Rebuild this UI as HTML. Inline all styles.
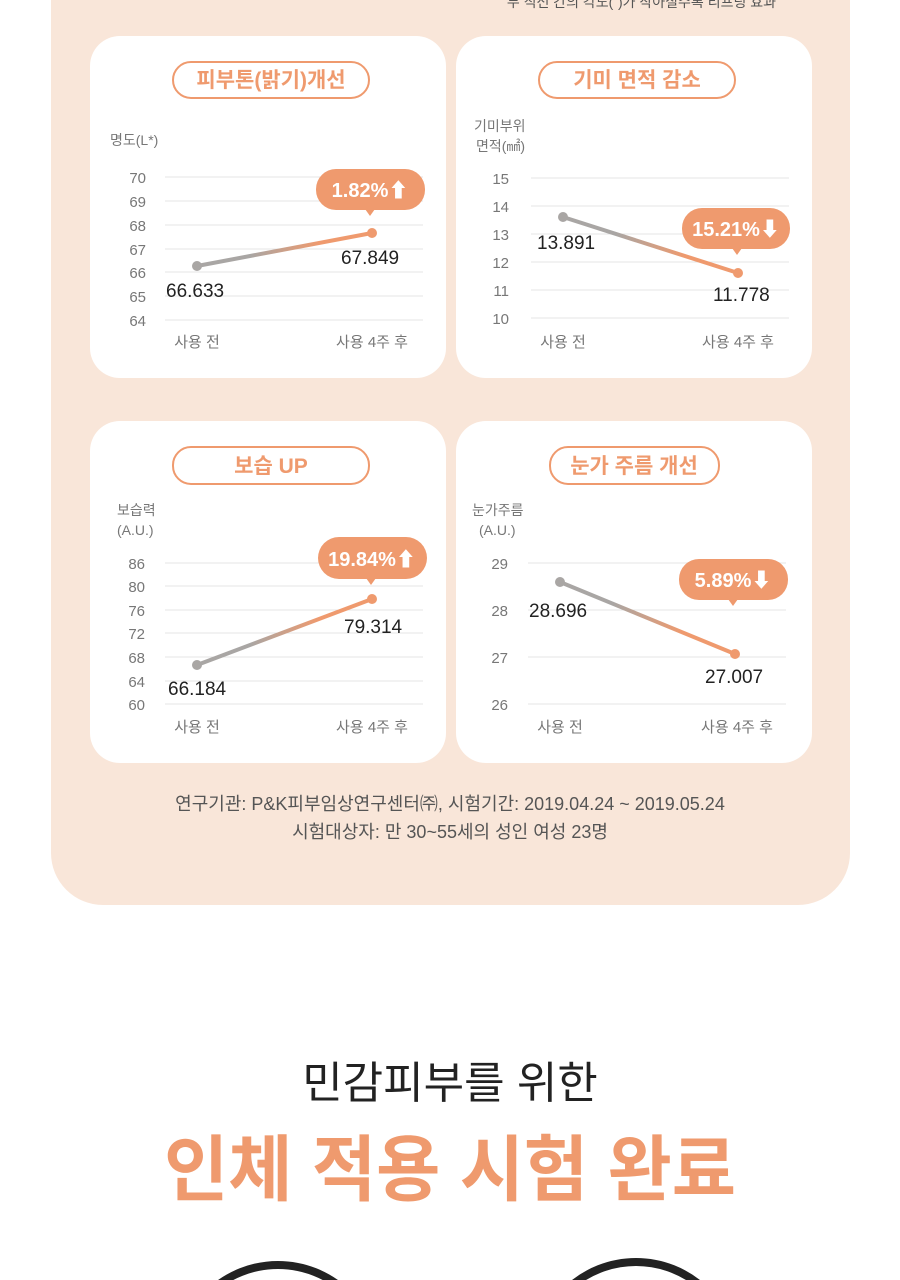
<!DOCTYPE html>
<html><head><meta charset="utf-8"><style>
html,body{margin:0;padding:0;background:#fff;width:900px;height:1280px;overflow:hidden}
svg{display:block;font-family:"Liberation Sans","Noto Sans CJK KR",sans-serif}
</style></head><body>
<svg width="900" height="1280" viewBox="0 0 900 1280" xmlns="http://www.w3.org/2000/svg">
<defs>
<linearGradient id="g" x1="0" x2="1" y1="0" y2="0"><stop offset="0.3" stop-color="#a9a6a4"/><stop offset="0.7" stop-color="#ef9a6e"/></linearGradient>
</defs>
<rect x="51" y="-60" width="799" height="965" rx="52" fill="#f9e6d9"/>
<text x="776" y="7" text-anchor="end" font-size="14" fill="#555">두 직선 간의 각도(˚)가 작아질수록 리프팅 효과</text>
<rect x="90" y="36" width="356" height="342" rx="30" fill="#fff"/>
<rect x="456" y="36" width="356" height="342" rx="30" fill="#fff"/>
<rect x="90" y="421" width="356" height="342" rx="30" fill="#fff"/>
<rect x="456" y="421" width="356" height="342" rx="30" fill="#fff"/>

<g stroke="#e4e4e4" stroke-width="1">
<path d="M165 177H423M165 201H423M165 225H423M165 249H423M165 272H423M165 296H423M165 320H423"/>
<path d="M531 178H789M531 206H789M531 234H789M531 262H789M531 290H789M531 318H789"/>
<path d="M165 563H423M165 586H423M165 610H423M165 633H423M165 657H423M165 681H423M165 704H423"/>
<path d="M528 563H786M528 610H786M528 657H786M528 704H786"/>
</g>

<g fill="none" stroke="#ef9a6e" stroke-width="2">
<rect x="173" y="62" width="196" height="36" rx="18"/>
<rect x="539" y="62" width="196" height="36" rx="18"/>
<rect x="173" y="447" width="196" height="37" rx="18"/>
<rect x="550" y="447" width="169" height="37" rx="18"/>
</g>
<g font-size="21" font-weight="bold" fill="#ef9a6e" text-anchor="middle">
<text x="271" y="87">피부톤(밝기)개선</text>
<text x="637" y="87">기미 면적 감소</text>
<text x="271" y="473">보습 UP</text>
<text x="634" y="473">눈가 주름 개선</text>
</g>

<g font-size="14" fill="#777">
<text x="110" y="145">명도(L*)</text>
<text x="474" y="131">기미부위</text><text x="476" y="151">면적(㎟)</text>
<text x="117" y="515">보습력</text><text x="117" y="535">(A.U.)</text>
<text x="472" y="515">눈가주름</text><text x="479" y="535">(A.U.)</text>
</g>

<g font-size="15" fill="#777" text-anchor="end">
<text x="146" y="183">70</text><text x="146" y="207">69</text><text x="146" y="231">68</text><text x="146" y="255">67</text><text x="146" y="278">66</text><text x="146" y="302">65</text><text x="146" y="326">64</text>
<text x="509" y="184">15</text><text x="509" y="212">14</text><text x="509" y="240">13</text><text x="509" y="268">12</text><text x="509" y="296">11</text><text x="509" y="324">10</text>
<text x="145" y="569">86</text><text x="145" y="592">80</text><text x="145" y="616">76</text><text x="145" y="639">72</text><text x="145" y="663">68</text><text x="145" y="687">64</text><text x="145" y="710">60</text>
<text x="508" y="569">29</text><text x="508" y="616">28</text><text x="508" y="663">27</text><text x="508" y="710">26</text>
</g>

<g font-size="15" fill="#777" text-anchor="middle">
<text x="197" y="347">사용 전</text><text x="372" y="347">사용 4주 후</text>
<text x="563" y="347">사용 전</text><text x="738" y="347">사용 4주 후</text>
<text x="197" y="732">사용 전</text><text x="372" y="732">사용 4주 후</text>
<text x="560" y="732">사용 전</text><text x="737" y="732">사용 4주 후</text>
</g>

<g stroke="url(#g)" stroke-width="4" fill="none" stroke-linecap="round">
<line x1="197" y1="266" x2="372" y2="233"/>
<line x1="563" y1="217" x2="738" y2="273"/>
<line x1="197" y1="665" x2="372" y2="599"/>
<line x1="560" y1="582" x2="735" y2="654"/>
</g>
<g>
<circle cx="197" cy="266" r="5" fill="#a9a6a4"/><circle cx="372" cy="233" r="5" fill="#ef9a6e"/>
<circle cx="563" cy="217" r="5" fill="#a9a6a4"/><circle cx="738" cy="273" r="5" fill="#ef9a6e"/>
<circle cx="197" cy="665" r="5" fill="#a9a6a4"/><circle cx="372" cy="599" r="5" fill="#ef9a6e"/>
<circle cx="560" cy="582" r="5" fill="#a9a6a4"/><circle cx="735" cy="654" r="5" fill="#ef9a6e"/>
</g>

<g font-size="19" fill="#222">
<text x="166" y="297">66.633</text><text x="341" y="264">67.849</text>
<text x="537" y="249">13.891</text><text x="713" y="301">11.778</text>
<text x="168" y="695">66.184</text><text x="344" y="633">79.314</text>
<text x="529" y="617">28.696</text><text x="705" y="683">27.007</text>
</g>

<g fill="#ef9a6e">
<rect x="316" y="169" width="109" height="41" rx="20"/><path d="M365 209L370 216L375 209Z"/>
<rect x="682" y="208" width="108" height="41" rx="20"/><path d="M732 248L737 255L742 248Z"/>
<rect x="318" y="537" width="109" height="42" rx="21"/><path d="M366 578L371 585L376 578Z"/>
<rect x="679" y="559" width="109" height="41" rx="20"/><path d="M728 599L733 606L738 599Z"/>
</g>
<g font-size="20" font-weight="bold" fill="#fff" text-anchor="middle">
<text x="370" y="197">1.82%⬆</text>
<text x="736" y="236">15.21%⬇</text>
<text x="372" y="566">19.84%⬆</text>
<text x="733" y="587">5.89%⬇</text>
</g>

<g font-size="18" fill="#555" text-anchor="middle">
<text x="450" y="810">연구기관: P&amp;K피부임상연구센터㈜, 시험기간: 2019.04.24 ~ 2019.05.24</text>
<text x="450" y="838">시험대상자: 만 30~55세의 성인 여성 23명</text>
</g>

<text x="450" y="1098" font-size="44" fill="#222" text-anchor="middle">민감피부를 위한</text>
<text x="450" y="1195" font-size="72" font-weight="bold" fill="#ef9a6e" text-anchor="middle" textLength="572" lengthAdjust="spacingAndGlyphs">인체 적용 시험 완료</text>

<circle cx="278" cy="1365" r="100" fill="none" stroke="#222" stroke-width="8"/>
<circle cx="636" cy="1362" r="100" fill="none" stroke="#222" stroke-width="8"/>
</svg>
</body></html>
